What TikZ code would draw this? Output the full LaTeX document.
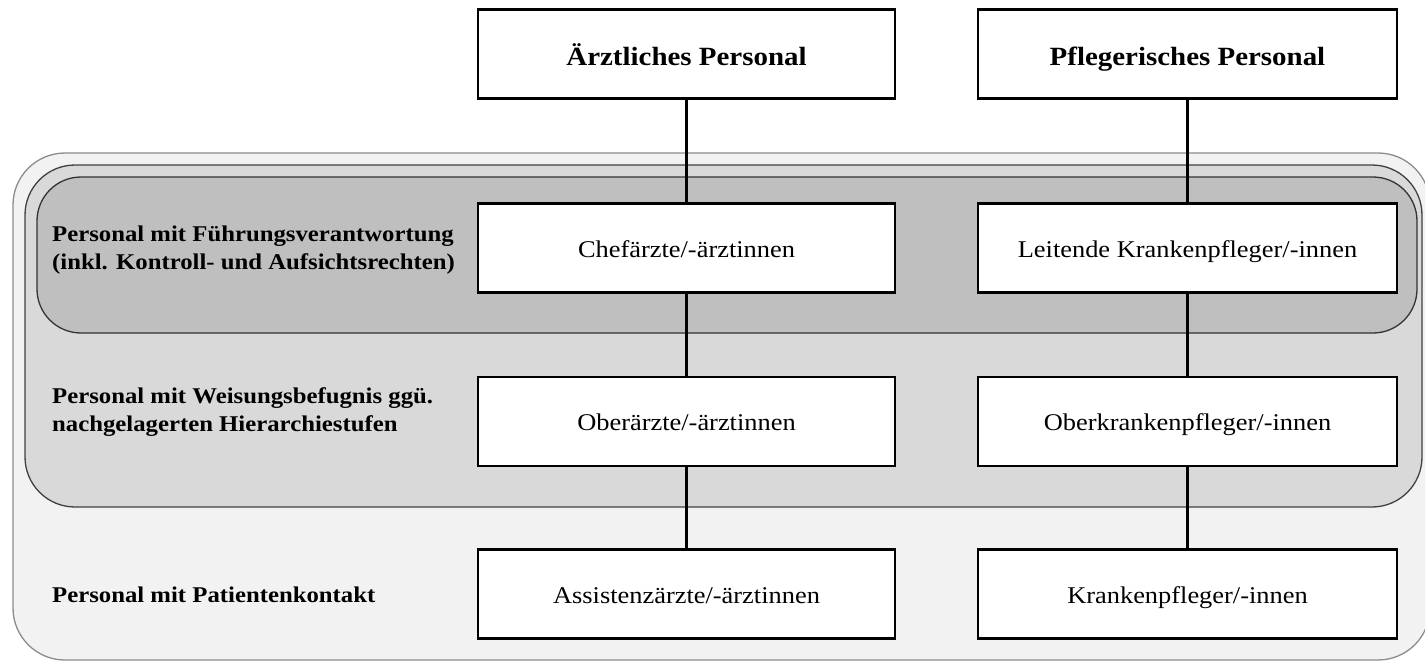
\documentclass[tikz,border=0pt]{standalone}
\usepackage{fontspec}
\setmainfont{Liberation Serif}[FakeStretch=1.1]
\begin{document}
\begin{tikzpicture}[x=1pt,y=-1pt,
  box/.style={draw=black,line width=2.6pt,fill=white,minimum width=417pt,minimum height=89pt,inner sep=0pt},
  headbox/.style={box,text height=26pt,text depth=4pt,font=\fontsize{26.3}{30}\selectfont\bfseries},
  rolebox/.style={box,text height=22pt,text depth=4pt,font=\fontsize{24}{28}\selectfont},
  levellabel/.style={anchor=west,align=left,inner sep=0pt,font=\fontsize{22.5}{28}\selectfont\bfseries},
  link/.style={draw=black,line width=2.2pt},
  band/.style={line width=1.3pt}]
\useasboundingbox (0,0) rectangle (1425,662);
\clip (0,0) rectangle (1425,662);

% nested hierarchy bands
\filldraw[band,draw=black!45,fill=black!5,rounded corners=52pt] (13,153) rectangle (1430,660);
\filldraw[band,draw=black!75,fill=black!15,rounded corners=50pt] (25,165) rectangle (1422,507);
\filldraw[band,draw=black!80,fill=black!25,rounded corners=44pt] (37,177) rectangle (1417,333);

% level labels
\node[levellabel] (l1) at (52,250) {Personal mit Führungsverantwortung\\(inkl. Kontroll- und Aufsichtsrechten)};
\node[levellabel] (l2) at (52,412) {Personal mit Weisungsbefugnis ggü.\\nachgelagerten Hierarchiestufen};
\node[levellabel] (l3) at (52,595) {Personal mit Patientenkontakt};

% columns
\node[headbox] (a0) at (686.5,54) {Ärztliches Personal};
\node[rolebox] (a1) at (686.5,248) {Chefärzte/-ärztinnen};
\node[rolebox] (a2) at (686.5,421.5) {Oberärzte/-ärztinnen};
\node[rolebox] (a3) at (686.5,594) {Assistenzärzte/-ärztinnen};

\node[headbox,minimum width=419pt] (p0) at (1187.5,54) {Pflegerisches Personal};
\node[rolebox,minimum width=419pt] (p1) at (1187.5,248) {Leitende Krankenpfleger/-innen};
\node[rolebox,minimum width=419pt] (p2) at (1187.5,421.5) {Oberkrankenpfleger/-innen};
\node[rolebox,minimum width=419pt] (p3) at (1187.5,594) {Krankenpfleger/-innen};

% connectors
\draw[link] (a0.south) -- (a1.north);
\draw[link] (a1.south) -- (a2.north);
\draw[link] (a2.south) -- (a3.north);
\draw[link] (p0.south) -- (p1.north);
\draw[link] (p1.south) -- (p2.north);
\draw[link] (p2.south) -- (p3.north);
\end{tikzpicture}
\end{document}
